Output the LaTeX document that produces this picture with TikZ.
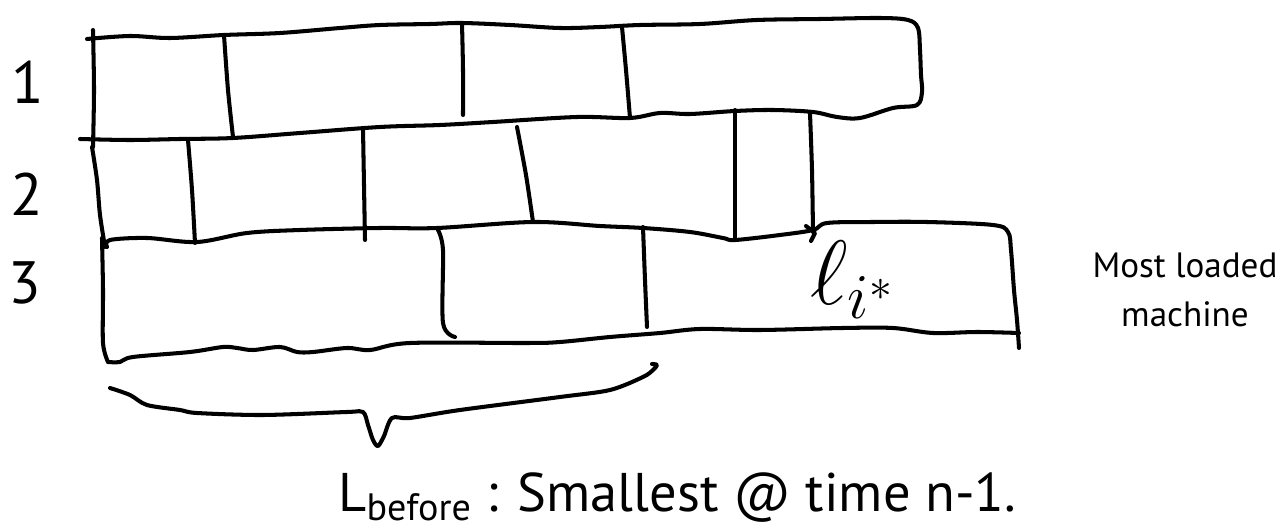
\documentclass[tikz,border=0pt]{standalone}
\usepackage{fix-cm}
\usepackage{fontspec}
\setmainfont{PT Sans}
\usepackage{tikz}
\definecolor{inkblack}{HTML}{000000}
\tikzset{
  inkline/.style={
    draw=inkblack,
    line width=2.3pt,
    line cap=round,
    line join=round
  },
  rowlabel/.style={font=\fontsize{34}{38}\selectfont, inner sep=0pt},
  loadlabel/.style={font=\fontsize{52}{56}\selectfont, inner sep=0pt},
  notetext/.style={align=center, font=\fontsize{20}{28}\selectfont, inner sep=0pt},
  captiontext/.style={anchor=base west, font=\fontsize{31}{35}\selectfont, inner sep=0pt}
}
\begin{document}
\begin{tikzpicture}[x=0.02cm, y=-0.02cm]
\useasboundingbox (0,0) rectangle (1276,530);
% machine 1
\draw[inkline] plot[smooth, tension=0.55] coordinates {(87,39) (130,36) (170,38) (224,35) (280,33) (340,28) (380,25) (430,24) (462,23) (510,25) (560,28) (600,27) (640,25) (700,24) (757,20) (820,19) (880,18) (908,20) (918,28) (920,50) (921,75) (922,92) (917,105) (893,108) (860,118) (837,117) (813,112) (773,110) (735,111) (690,114) (660,113) (630,118) (577,117) (493,122) (440,125) (380,127) (300,133) (233,138) (180,139) (130,140) (80,139)};
\draw[inkline] plot[smooth] coordinates {(93,30) (94,90) (93,147)};
\draw[inkline] plot[smooth] coordinates {(224,35) (228,90) (233,137)};
\draw[inkline] plot[smooth] coordinates {(462,23) (463,70) (463,115)};
\draw[inkline] plot[smooth] coordinates {(622,27) (626,70) (630,118)};
% machine 2
\draw[inkline] plot[smooth] coordinates {(92,147) (97,180) (100,215) (105,247)};
\draw[inkline] plot[smooth] coordinates {(188,140) (192,190) (195,243)};
\draw[inkline] plot[smooth] coordinates {(363,128) (364,185) (365,240)};
\draw[inkline] plot[smooth] coordinates {(517,127) (526,175) (533,222)};
\draw[inkline] plot[smooth] coordinates {(735,110) (735,175) (735,240)};
\draw[inkline] plot[smooth] coordinates {(810,113) (812,170) (813,232)};
\draw[inkline] (806,226) -- (815,233) -- (811,241);
% machine 3
\draw[inkline] plot[smooth, tension=0.55] coordinates {(107,247) (110,240) (147,238) (197,242) (247,233) (300,230) (380,228) (437,228) (533,222) (600,226) (643,228) (690,232) (723,238) (735,240) (780,235) (813,230) (827,223) (873,222) (927,222) (993,225) (1008,232) (1011,250) (1014,290) (1017,320) (1019,348)};
\draw[inkline] plot[smooth] coordinates {(102,238) (103,290) (103,343) (108,362)};
\draw[inkline] plot[smooth, tension=0.55] coordinates {(108,362) (120,362) (133,357) (190,352) (223,347) (237,348) (253,350) (280,347) (297,352) (313,352) (347,348) (370,350) (410,343) (527,343) (560,342) (610,337) (660,333) (700,329) (760,330) (843,328) (893,328) (933,333) (977,332) (1019,333)};
\draw[inkline] plot[smooth] coordinates {(438,230) (443,250) (443,323) (455,337)};
\draw[inkline] plot[smooth] coordinates {(643,227) (645,280) (647,327)};
% brace under the first jobs
\draw[inkline] plot[smooth, tension=0.5] coordinates {(110,388) (130,395) (147,405) (180,410) (197,413) (263,415) (347,412) (363,412) (368,425) (373,440) (378,446) (384,436) (392,418) (410,418) (460,410) (560,397) (610,390) (643,377) (653,370) (657,365) (652,364)};
\node[rowlabel] (m1) at (28,82) {1};
\node[rowlabel] (m2) at (27,194) {2};
\node[rowlabel] (m3) at (25,283) {3};
\node[loadlabel] (lstar) at (852,280) {$\ell_{i^*}$};
\node[notetext] (note) at (1185,290) {Most loaded\\machine};
\node[captiontext] (cap) at (338,512) {L\textsubscript{before} : Smallest @ time n-1.};
\end{tikzpicture}
\end{document}
